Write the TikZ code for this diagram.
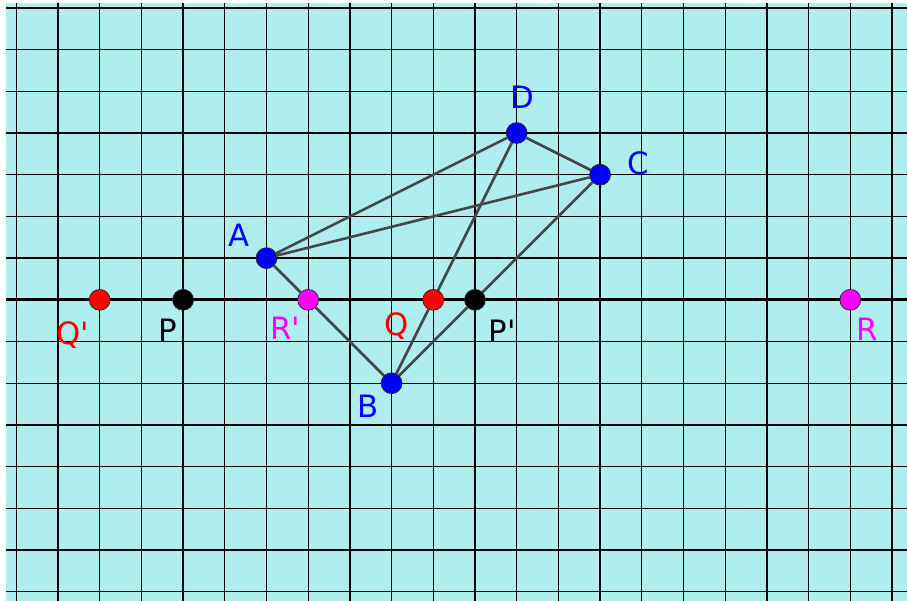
\documentclass[tikz,border=0pt]{standalone}
\usepackage{fontspec}
\setmainfont{DejaVu Sans}
\usepackage{tikz}
\usetikzlibrary{positioning}
\definecolor{bgcyan}{RGB}{175,238,238}
\definecolor{ptblue}{RGB}{0,0,255}
\definecolor{ptred}{RGB}{255,0,0}
\definecolor{ptmag}{RGB}{255,0,255}
\pgfdeclarelayer{back}
\pgfdeclarelayer{mid}
\pgfsetlayers{back,mid,main}
\newcommand{\pr}{\textquotesingle}

\begin{document}
\begin{tikzpicture}[
    % Styles for the figure
    edge/.style={line width=1.8pt, draw=black!72},
    gridline/.style={line width=0.9pt, draw=black},
    axis/.style={line width=1.9pt, draw=black},
    dot/.style={circle, draw=black!85, line width=0.5pt, inner sep=0pt, minimum size=0.5cm},
    lbl/.style={anchor=base, font=\fontsize{21}{25}\selectfont}
]
        \useasboundingbox (-4.39,-7.22) rectangle (17.36,7.19);

        % --- Background and grid ---
        \begin{pgfonlayer}{back}
        \fill[bgcyan] (-4.25,-7.22) rectangle (17.36,7.12);
        \draw[gridline] (-4.25,-7.22) grid (17.36,7.12);
        \draw[axis] (-4.25,0) -- (17.36,0);
        \end{pgfonlayer}

        % --- Vertices of the quadrilateral ---
        \node[dot, fill=ptblue] (A) at (2, 1) {};
        \node[dot, fill=ptblue] (B) at (5, -2) {};
        \node[dot, fill=ptblue] (C) at (10, 3) {};
        \node[dot, fill=ptblue] (D) at (8, 4) {};

        % --- Points on the line ---
        \node[dot, fill=ptred] (Qp) at (-2, 0) {};
        \node[dot, fill=black] (P) at (0, 0) {};
        \node[dot, fill=ptmag] (Rp) at (3, 0) {};
        \node[dot, fill=ptred] (Q) at (6, 0) {};
        \node[dot, fill=black] (Pp) at (7, 0) {};
        \node[dot, fill=ptmag] (R) at (16, 0) {};

        % --- Edges ---
        \begin{pgfonlayer}{mid}
        \draw[edge] (A) -- (D) -- (C) -- (A);
        \draw[edge] (A) -- (Rp) -- (B);
        \draw[edge] (D) -- (Q) -- (B);
        \draw[edge] (C) -- (Pp) -- (B);
        \end{pgfonlayer}

        % --- Labels ---
        \node[lbl, text=ptblue] (lA) at (1.34, 1.27) {A};
        \node[lbl, text=ptblue] (lB) at (4.44, -2.81) {B};
        \node[lbl, text=ptblue] (lC) at (10.91, 3.00) {C};
        \node[lbl, text=ptblue] (lD) at (8.13, 4.60) {D};
        \node[lbl, text=ptred] (lQp) at (-2.65, -1.06) {Q\pr};
        \node[lbl, text=black] (lP) at (-0.36, -1.01) {P};
        \node[lbl, text=ptmag] (lRp) at (2.45, -0.96) {R\pr};
        \node[lbl, text=ptred] (lQ) at (5.13, -0.86) {Q};
        \node[lbl, text=black] (lPp) at (7.65, -1.03) {P\pr};
        \node[lbl, text=ptmag] (lR) at (16.4, -0.98) {R};

    \end{tikzpicture}
\end{document}
